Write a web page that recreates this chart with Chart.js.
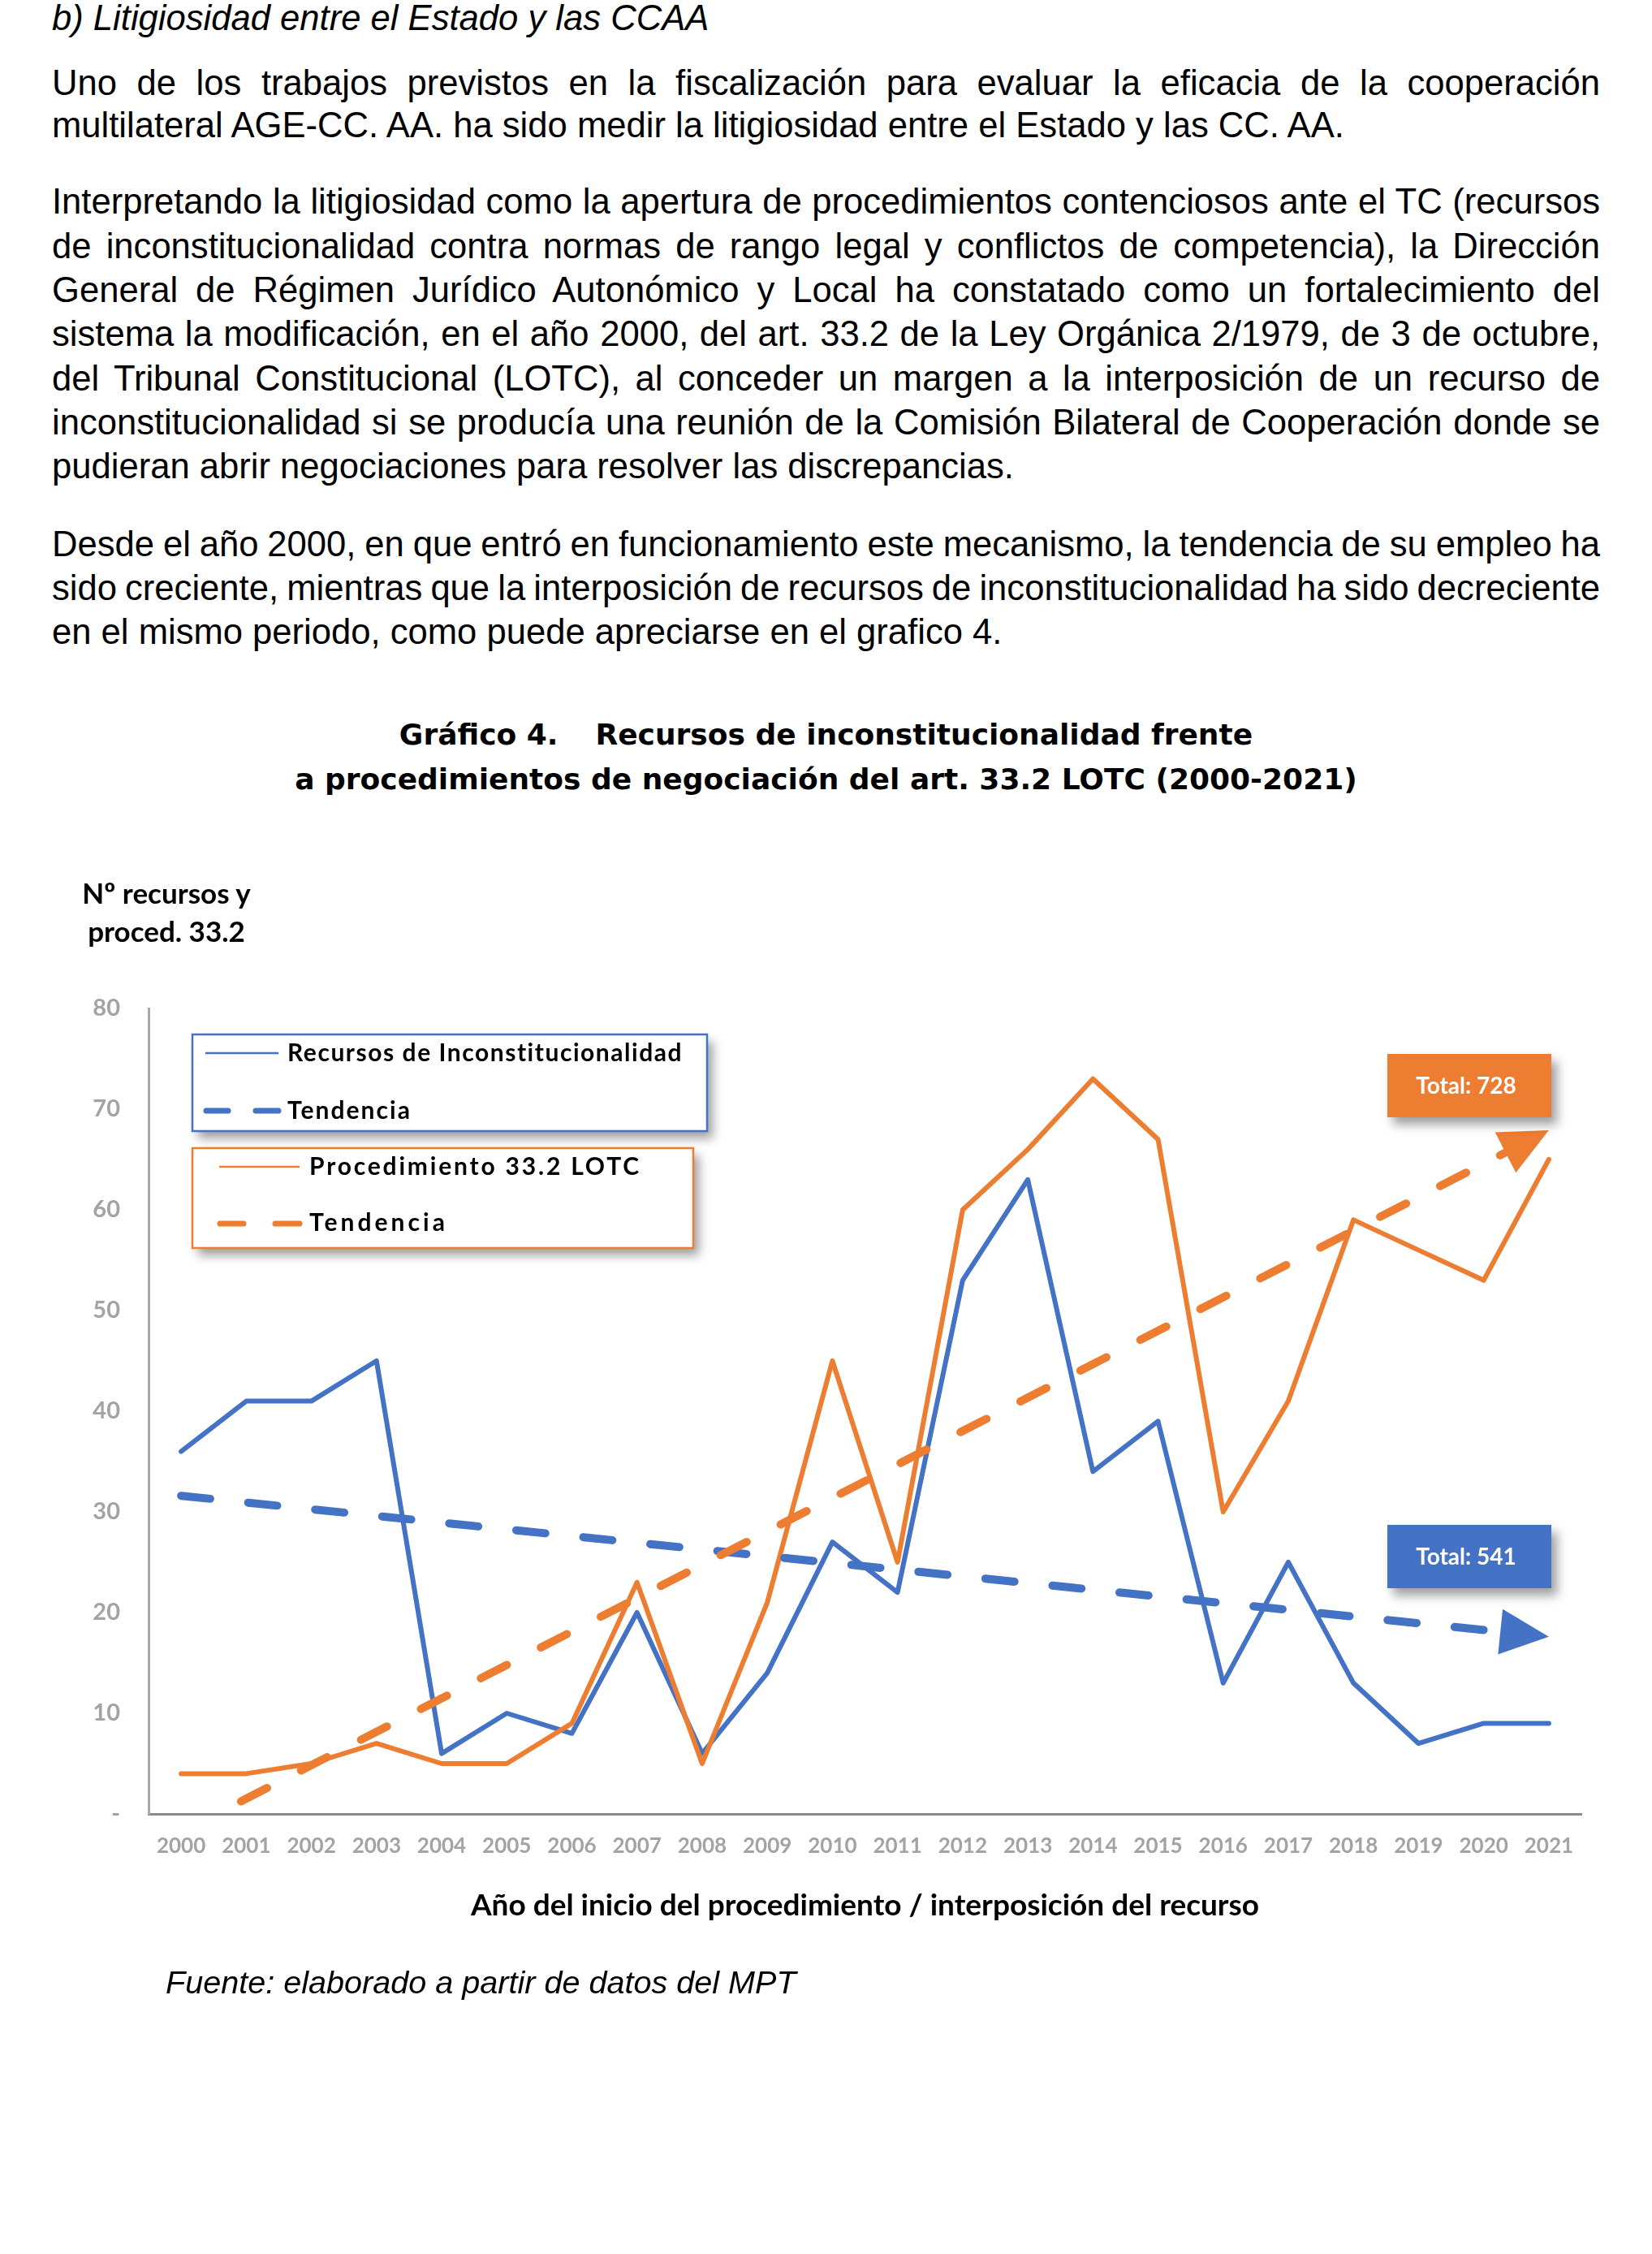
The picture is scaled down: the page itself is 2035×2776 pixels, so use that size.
<!DOCTYPE html>
<html>
<head>
<meta charset="utf-8">
<script src="https://cdn.jsdelivr.net/npm/chart.js@4.4.1/dist/chart.umd.min.js"></script>
<style>
html,body{margin:0;padding:0;background:#fff;}
body{width:2035px;height:2776px;position:relative;overflow:hidden;}
.t{position:absolute;left:64px;width:1907px;font-family:"Liberation Sans",Arial,sans-serif;font-size:43.6px;line-height:54px;color:#000;white-space:nowrap;}
.ttl{position:absolute;left:0;width:2035px;text-align:center;font-family:"DejaVu Sans",Verdana,sans-serif;font-weight:bold;font-size:36px;line-height:44px;color:#000;white-space:pre;}
.yt{position:absolute;left:55px;width:300px;top:1076px;text-align:center;font-family:Lato,sans-serif;font-weight:bold;font-size:35px;line-height:47px;color:#000;z-index:2;}
.src{position:absolute;left:204px;top:2416px;font-family:"Liberation Sans",Arial,sans-serif;font-style:italic;font-size:39.6px;line-height:50px;color:#000;white-space:nowrap;}
canvas{position:absolute;left:0;top:1000px;}
</style>
</head>
<body>
<div class="t" style="top:-5px;font-style:italic;">b) Litigiosidad entre el Estado y las CCAA</div>

<div class="t j" style="top:75px;">Uno de los trabajos previstos en la fiscalización para evaluar la eficacia de la cooperación</div>
<div class="t" style="top:127px;">multilateral AGE-CC. AA. ha sido medir la litigiosidad entre el Estado y las CC. AA.</div>

<div class="t j" style="top:221px;">Interpretando la litigiosidad como la apertura de procedimientos contenciosos ante el TC (recursos</div>
<div class="t j" style="top:276px;">de inconstitucionalidad contra normas de rango legal y conflictos de competencia), la Dirección</div>
<div class="t j" style="top:330px;">General de Régimen Jurídico Autonómico y Local ha constatado como un fortalecimiento del</div>
<div class="t j" style="top:384px;">sistema la modificación, en el año 2000, del art. 33.2 de la Ley Orgánica 2/1979, de 3 de octubre,</div>
<div class="t j" style="top:439px;">del Tribunal Constitucional (LOTC), al conceder un margen a la interposición de un recurso de</div>
<div class="t j" style="top:493px;">inconstitucionalidad si se producía una reunión de la Comisión Bilateral de Cooperación donde se</div>
<div class="t" style="top:547px;">pudieran abrir negociaciones para resolver las discrepancias.</div>

<div class="t j" style="top:643px;">Desde el año 2000, en que entró en funcionamiento este mecanismo, la tendencia de su empleo ha</div>
<div class="t j" style="top:697px;">sido creciente, mientras que la interposición de recursos de inconstitucionalidad ha sido decreciente</div>
<div class="t" style="top:751px;">en el mismo periodo, como puede apreciarse en el grafico 4.</div>

<div class="ttl" style="top:883px;">Gráfico 4.<span style="display:inline-block;width:46px;"></span>Recursos de inconstitucionalidad frente</div>
<div class="ttl" style="top:938px;">a procedimientos de negociación del art. 33.2 LOTC (2000-2021)</div>

<div class="yt">Nº recursos y<br>proced. 33.2</div>

<canvas id="c" width="2035" height="1500" style="width:2035px;height:1500px;"></canvas>

<div class="src">Fuente: elaborado a partir de datos del MPT</div>

<script>
// justify lines exactly to the text block width
document.querySelectorAll('.j').forEach(el=>{
  const txt = el.textContent;
  const span = document.createElement('span');
  span.textContent = txt;
  el.textContent = '';
  el.appendChild(span);
  const nat = span.getBoundingClientRect().width;
  const spaces = (txt.match(/ /g)||[]).length;
  if (spaces) el.style.wordSpacing = ((1907 - nat)/spaces).toFixed(3) + 'px';
});
</script>

<script>
// ---- data ----
const years = ['2000','2001','2002','2003','2004','2005','2006','2007','2008','2009','2010',
               '2011','2012','2013','2014','2015','2016','2017','2018','2019','2020','2021'];
const recursos = [36,41,41,45,6,10,8,20,6,14,27,22,53,63,34,39,13,25,13,7,9,9];
const procedimientos = [4,4,5,7,5,5,9,23,5,21,45,25,60,66,73,67,30,41,59,56,53,65];
// trend lines: values read at the first and last year
const tendenciaRecursos = [31.6, 17.6];
const tendenciaProced = [-1.8, 67.9];
const yTickLabels = ['-','10','20','30','40','50','60','70','80'];

const BLUE = '#4472C4', ORANGE = '#ED7D31';

function trendSeries(ends){
  return years.map((y,i)=> i===0 ? ends[0] : (i===years.length-1 ? ends[1] : null));
}

// clip trend lines behind their arrowheads
const ARROW_L = 60, ARROW_W = 28;
function trendGeom(chart, idx){
  const ds = chart.data.datasets[idx];
  const meta = chart.getDatasetMeta(idx);
  const pts = meta.data.filter((p,k)=> ds.data[k] !== null);
  const a = pts[0], b = pts[pts.length-1];
  const dx = b.x-a.x, dy = b.y-a.y, len = Math.hypot(dx,dy);
  return {tip:{x:b.x,y:b.y}, ux:dx/len, uy:dy/len};
}
const arrowPlugin = {
  id:'trendArrows',
  beforeDatasetDraw(chart, args){
    const ds = chart.data.datasets[args.index];
    if(!ds.isTrend) return;
    const g = trendGeom(chart, args.index);
    const ctx = chart.ctx;
    const cx = g.tip.x - g.ux*ARROW_L*0.5, cy = g.tip.y - g.uy*ARROW_L*0.5;
    const px = -g.uy, py = g.ux, B = 6000;
    ctx.save();
    ctx.beginPath();
    ctx.moveTo(cx+px*B, cy+py*B);
    ctx.lineTo(cx-px*B, cy-py*B);
    ctx.lineTo(cx-px*B-g.ux*B, cy-py*B-g.uy*B);
    ctx.lineTo(cx+px*B-g.ux*B, cy+py*B-g.uy*B);
    ctx.closePath();
    ctx.clip();
  },
  afterDatasetDraw(chart, args){
    const ds = chart.data.datasets[args.index];
    if(!ds.isTrend) return;
    const ctx = chart.ctx;
    ctx.restore();
    const g = trendGeom(chart, args.index);
    const bx = g.tip.x - g.ux*ARROW_L, by = g.tip.y - g.uy*ARROW_L;
    ctx.save();
    ctx.fillStyle = ds.borderColor;
    ctx.beginPath();
    ctx.moveTo(g.tip.x, g.tip.y);
    ctx.lineTo(bx - g.uy*ARROW_W, by + g.ux*ARROW_W);
    ctx.lineTo(bx + g.uy*ARROW_W, by - g.ux*ARROW_W);
    ctx.closePath();
    ctx.fill();
    ctx.restore();
  }
};

function fitText(ctx, text, x, y, targetW){
  ctx.letterSpacing = '0px';
  const w = ctx.measureText(text).width;
  if (targetW && text.length > 1 && 'letterSpacing' in ctx){
    ctx.letterSpacing = ((targetW - w)/(text.length-1)).toFixed(2)+'px';
  }
  ctx.fillText(text, x, y);
  ctx.letterSpacing = '0px';
}

function shadowBox(ctx, x, y, w, h, fill){
  ctx.save();
  ctx.shadowColor = 'rgba(0,0,0,0.38)';
  ctx.shadowBlur = 12;
  ctx.shadowOffsetX = 7;
  ctx.shadowOffsetY = 9;
  ctx.fillStyle = fill;
  ctx.fillRect(x, y, w, h);
  ctx.restore();
}

// legend boxes and total labels
const legendPlugin = {
  id:'customLegend',
  afterDraw(chart){
    const ctx = chart.ctx;
    const dsets = chart.data.datasets;
    const groups = [
      {line:0, trend:2, box:{x:237,y:274,w:634,h:119}, sample:[253,343], dash:[[251,284],[312,346]],
       textX:354, rows:[297,368], base:[307,378], widths:[486,151]},
      {line:1, trend:3, box:{x:237,y:414,w:617,h:123}, sample:[270,369], dash:[[268,303],[336,372]],
       textX:381, rows:[437,507], base:[447,516], widths:[406,167]}
    ];
    groups.forEach(gp=>{
      const col = dsets[gp.line].borderColor;
      const b = gp.box;
      shadowBox(ctx, b.x, b.y, b.w, b.h, '#fff');
      ctx.save();
      ctx.strokeStyle = col; ctx.lineWidth = 2.5;
      ctx.strokeRect(b.x, b.y, b.w, b.h);
      ctx.lineWidth = 2.5; ctx.lineCap='butt';
      ctx.beginPath(); ctx.moveTo(gp.sample[0], gp.rows[0]); ctx.lineTo(gp.sample[1], gp.rows[0]); ctx.stroke();
      ctx.lineWidth = 7; ctx.lineCap='round';
      gp.dash.forEach(d=>{ ctx.beginPath(); ctx.moveTo(d[0]+3, gp.rows[1]); ctx.lineTo(d[1]-3, gp.rows[1]); ctx.stroke(); });
      ctx.fillStyle = '#000';
      ctx.font = 'bold 30px Lato';
      ctx.textBaseline = 'alphabetic'; ctx.textAlign='left';
      fitText(ctx, dsets[gp.line].label, gp.textX, gp.base[0], gp.widths[0]);
      fitText(ctx, dsets[gp.trend].label, gp.textX, gp.base[1], gp.widths[1]);
      ctx.restore();
    });

    // total labels
    const area = chart.chartArea;
    const totals = [{ds:1, top:298}, {ds:0, top:878}];
    totals.forEach(t=>{
      const ds = dsets[t.ds];
      const sum = ds.data.reduce((a,v)=>a+v,0);
      const x = area.right - 239, w = 202, h = 78;
      shadowBox(ctx, x, t.top, w, h, ds.borderColor);
      ctx.save();
      ctx.fillStyle = '#fff';
      ctx.font = 'bold 28px Lato';
      ctx.textAlign = 'center'; ctx.textBaseline = 'middle';
      ctx.fillText('Total: ' + sum, x + w/2 - 4, t.top + h/2 + 1);
      ctx.restore();
    });
  }
};

const ctx = document.getElementById('c').getContext('2d');
new Chart(ctx, {
  type:'line',
  data:{
    labels: years,
    datasets:[
      {label:'Recursos de Inconstitucionalidad', data:recursos, borderColor:BLUE, backgroundColor:BLUE,
       borderWidth:6, pointRadius:0, tension:0, borderJoinStyle:'round', borderCapStyle:'round', order:3},
      {label:'Procedimiento 33.2 LOTC', data:procedimientos, borderColor:ORANGE, backgroundColor:ORANGE,
       borderWidth:6, pointRadius:0, tension:0, borderJoinStyle:'round', borderCapStyle:'round', order:2},
      {label:'Tendencia', data:trendSeries(tendenciaRecursos), isTrend:true, spanGaps:true, borderColor:BLUE,
       backgroundColor:BLUE, borderWidth:10, borderDash:[36,47], borderCapStyle:'round', pointRadius:0, clip:0, order:1},
      {label:'Tendencia', data:trendSeries(tendenciaProced), isTrend:true, spanGaps:true, borderColor:ORANGE,
       backgroundColor:ORANGE, borderWidth:10, borderDash:[36,47], borderCapStyle:'round', pointRadius:0, clip:0, order:0}
    ]
  },
  options:{
    responsive:false,
    devicePixelRatio:1,
    animation:false,
    layout:{padding:{top:242, right:87, bottom:0, left:0}},
    plugins:{legend:{display:false}, tooltip:{enabled:false}, title:{display:false}},
    scales:{
      x:{
        type:'category', offset:true,
        grid:{display:false, drawTicks:false},
        border:{display:true, color:'#8a8a8a', width:3},
        ticks:{color:'#a3a3a3', font:{family:'Lato', weight:'bold', size:26}, padding:24, maxRotation:0, autoSkip:false},
        title:{display:true, text:'Año del inicio del procedimiento / interposición del recurso',
               color:'#000', font:{family:'Lato', weight:'bold', size:37}, padding:{top:0, bottom:131}},
        afterFit(s){ s.height = 266; }
      },
      y:{
        min:0, max:80,
        grid:{display:false, drawTicks:false},
        border:{display:true, color:'#a8a8a8', width:3},
        ticks:{stepSize:10, color:'#a3a3a3', font:{family:'Lato', weight:'bold', size:29}, padding:35,
               callback:(v,i)=> yTickLabels[i]},
        afterFit(s){ s.width = 183; }
      }
    }
  },
  plugins:[arrowPlugin, legendPlugin]
});
</script>
</body>
</html>
